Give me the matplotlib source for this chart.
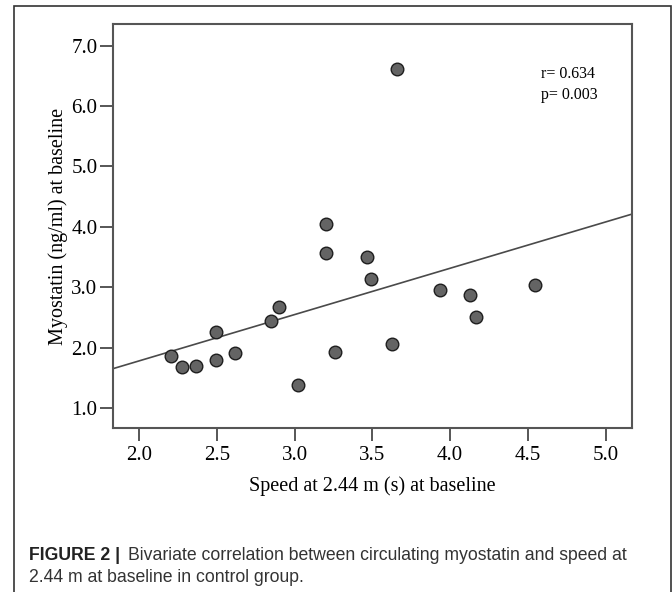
import numpy as np
import matplotlib
matplotlib.use("Agg")
import matplotlib.pyplot as plt
from matplotlib.patches import Rectangle

# data
speed = [2.204, 2.275, 2.365, 2.494, 2.494, 2.614, 2.845, 2.897, 3.019, 3.199,
         3.199, 3.259, 3.467, 3.489, 3.628, 3.660, 3.937, 4.128, 4.167, 4.548]
myostatin = [1.868, 1.676, 1.702, 2.260, 1.791, 1.917, 2.442, 2.679, 1.382, 4.053,
             3.573, 1.924, 3.497, 3.132, 2.066, 6.614, 2.955, 2.867, 2.508, 3.032]
x_ticks = [2.0, 2.5, 3.0, 3.5, 4.0, 4.5, 5.0]
y_ticks = [1.0, 2.0, 3.0, 4.0, 5.0, 6.0, 7.0]
stats_text = "r= 0.634\np= 0.003"

serif = "Liberation Serif"
sans = "Liberation Sans"

fig = plt.figure(figsize=(6.72, 5.92), dpi=100)
ax = fig.add_axes([0.1677, 0.277, 0.7731, 0.682])

# linear fit line across the whole axis
xlo, xhi = 1.829, 5.171
k, b = np.polyfit(speed, myostatin, 1)
xl = np.array([xlo, xhi])
ax.plot(xl, k * xl + b, color="#4a4a4a", lw=1.2, zorder=2)

ax.scatter(speed, myostatin, s=82, facecolor="#646464", edgecolor="#1e1e1e",
           linewidth=1.0, zorder=3)

ax.set_xlim(xlo, xhi)
ax.set_ylim(0.669, 7.354)
ax.set_xticks(x_ticks)
ax.set_yticks(y_ticks)
ax.set_xticklabels(["%.1f" % v for v in x_ticks], family=serif, fontsize=15)
ax.set_yticklabels(["%.1f" % v for v in y_ticks], family=serif, fontsize=15)
ax.tick_params(direction="out", length=9.5, width=1.2, color="#3a3a3a")
ax.tick_params(axis="y", pad=1.5)
ax.tick_params(axis="x", pad=3.5)
for s in ax.spines.values():
    s.set_color("#555555")
    s.set_linewidth(1.5)

ax.set_xlabel("Speed at 2.44 m (s) at baseline", family=serif, fontsize=14.5, labelpad=8)
ax.set_ylabel("Myostatin (ng/ml) at baseline", family=serif, fontsize=14.5, labelpad=2.5)

ax.text(0.824, 0.897, stats_text, transform=ax.transAxes, family=serif,
        fontsize=11.5, va="top", ha="left", linespacing=1.45)

# outer frame of the figure panel
fig.add_artist(Rectangle((0.0201, -0.01), 0.9777, 0.9994, transform=fig.transFigure,
                         fill=False, edgecolor="#333333", lw=1.2))

# caption
fig.text(0.0432, 1 - 555 / 592, "FIGURE 2 |", family=sans, fontsize=12.7,
         fontweight="bold", va="center", ha="left", color="#222222")
fig.text(0.1905, 1 - 555 / 592, "Bivariate correlation between circulating myostatin and speed at",
         family=sans, fontsize=12.7, va="center", ha="left", color="#333333")
fig.text(0.0432, 1 - 578 / 592, "2.44 m at baseline in control group.",
         family=sans, fontsize=12.7, va="center", ha="left", color="#333333")

fig.savefig("out.png", dpi=100)
